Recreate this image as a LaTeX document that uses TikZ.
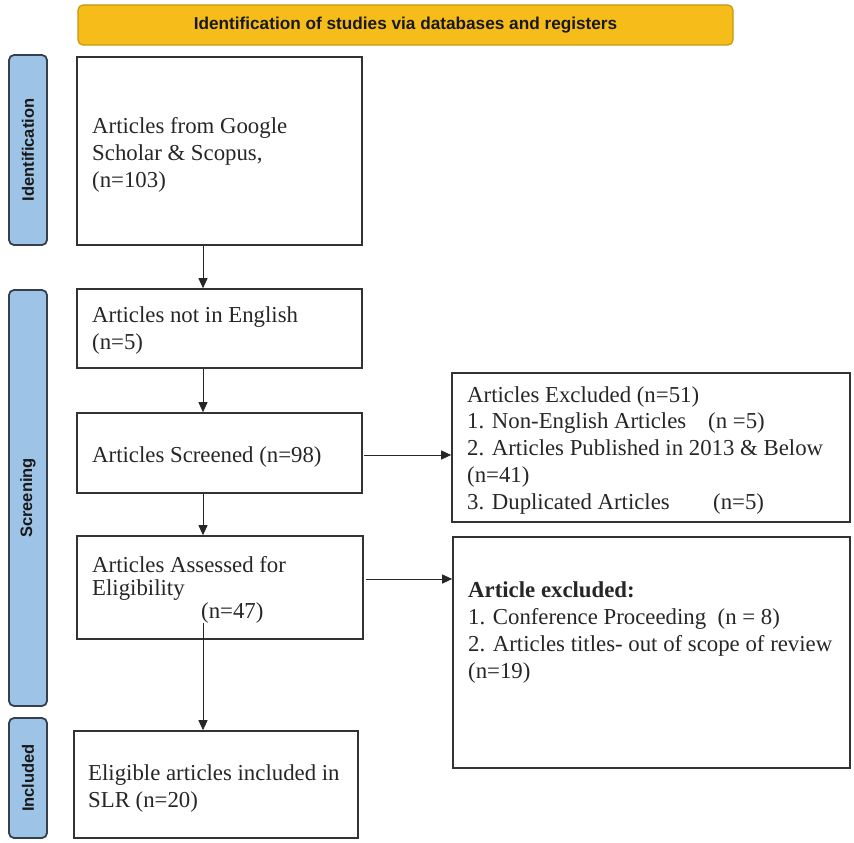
\documentclass[tikz,border=0pt]{standalone}
\usepackage{fontspec}
\setmainfont{Liberation Serif}
\setsansfont{Liberation Sans}
\usetikzlibrary{arrows.meta}

\definecolor{bannerfill}{HTML}{F6BC1A}
\definecolor{bannerline}{HTML}{C8970E}
\definecolor{phasefill}{HTML}{9DC3E6}
\definecolor{phaseline}{HTML}{34404E}
\definecolor{boxline}{HTML}{333333}
\definecolor{ink}{HTML}{262626}

\tikzset{
  box/.style={draw=boxline, line width=1.6pt, rectangle, inner sep=0pt},
  % multi-line texts: the base anchor sits on the last line
  txt/.style={anchor=base west, inner sep=0pt, align=left, text=ink,
    font=\fontsize{22.8}{26.7}\selectfont},
  banner/.style={draw=bannerline, fill=bannerfill, line width=1.2pt,
    rounded corners=5pt, text=black!90,
    font=\sffamily\bfseries\fontsize{17.2}{20}\selectfont},
  phase/.style={draw=phaseline, fill=phasefill, line width=1.8pt,
    rounded corners=5pt, rotate=90, text=black!90,
    font=\sffamily\bfseries\fontsize{16.5}{19}\selectfont},
  arr/.style={draw=ink, line width=0.9pt, -{Triangle[length=10pt,width=9pt]}}
}

\begin{document}
\begin{tikzpicture}[x=1pt, y=-1pt]
  \useasboundingbox (0,0) rectangle (854,843);

  % heading banner
  \node[banner, minimum width=655pt, minimum height=40pt] (head) at (405.5,25)
    {Identification of studies via databases and registers};

  % phase labels on the left
  \node[phase, minimum width=190pt, minimum height=38pt] (pid) at (28,150) {Identification};
  \node[phase, minimum width=416pt, minimum height=38pt] (pscr) at (28,498) {Screening};
  \node[phase, minimum width=120pt, minimum height=38pt] (pinc) at (28,778) {Included};

  % main column boxes
  \node[box, minimum width=285pt, minimum height=188pt] (b1) at (219.5,151) {};
  \node[box, minimum width=285pt, minimum height=79pt]  (b2) at (219.5,328.5) {};
  \node[box, minimum width=285pt, minimum height=80pt]  (b3) at (219.5,453) {};
  \node[box, minimum width=286pt, minimum height=103pt] (b5) at (220,587.5) {};
  \node[box, minimum width=284pt, minimum height=107pt] (b7) at (216,784.5) {};

  % exclusion boxes
  \node[box, minimum width=398pt, minimum height=149pt] (e1) at (651,447.5) {};
  \node[box, minimum width=397pt, minimum height=231pt] (e2) at (651.5,652.5) {};

  % box texts
  \node[txt] (t1) at (92,187) {Articles from Google\\Scholar \& Scopus,\\(n=103)};
  \node[txt] (t2) at (92,349) {Articles not in English\\(n=5)};
  \node[txt] (t3) at (92,462) {Articles Screened (n=98)};
  \node[txt, font=\fontsize{22.8}{23}\selectfont] (t5) at (92,595)
    {Articles Assessed for\\Eligibility};
  \node[txt] (n47) at (201,618) {(n=47)};
  \node[txt] (t7) at (88,807) {Eligible articles included in\\SLR (n=20)};

  \node[txt] (te1) at (467,509)
    {Articles Excluded (n=51)\\
     \makebox[241pt][l]{1. Non-English Articles}(n =5)\\
     2. Articles Published in 2013 \& Below\\
     (n=41)\\
     \makebox[246pt][l]{3. Duplicated Articles}(n=5)};
  \node[txt] (te2) at (468,678)
    {\textbf{Article excluded:}\\
     1. Conference Proceeding~ (n = 8)\\
     2. Articles titles- out of scope of review\\
     (n=19)};

  % flow connectors
  \coordinate (spine) at (203,0);
  \coordinate (c3) at ([yshift=-2pt]b3.east);
  \coordinate (c5) at ([yshift=8.5pt]b5.east);
  \draw[arr] (b1.south -| spine) -- (b2.north -| spine);
  \draw[arr] (b2.south -| spine) -- (b3.north -| spine);
  \draw[arr] (b3.south -| spine) -- (b5.north -| spine);
  \draw[arr] (n47.south -| spine) -- (b7.north -| spine);
  \draw[arr] ([xshift=1pt]c3) -- (c3 -| e1.west);
  \draw[arr] ([xshift=2pt]c5) -- (c5 -| e2.west);
\end{tikzpicture}
\end{document}
